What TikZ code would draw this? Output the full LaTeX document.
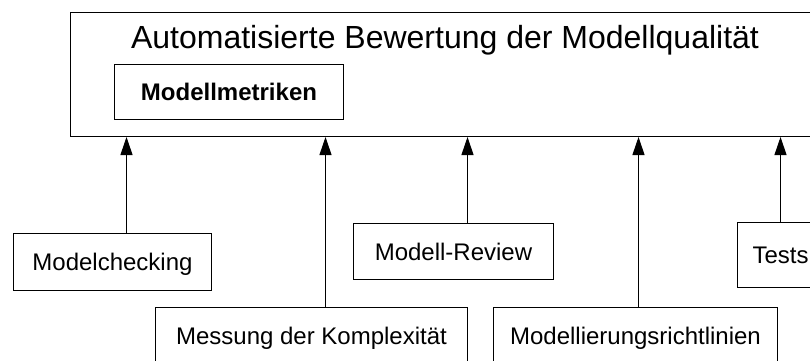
\documentclass[tikz,border=0pt]{standalone}
\usepackage{fontspec}
\setmainfont{Liberation Sans}
\usetikzlibrary{positioning, arrows.meta}

\begin{document}
\begin{tikzpicture}[
    x=1pt, y=-1pt,
    >={Triangle[length=18pt, width=12pt]},
    every node/.style={font=\fontsize{24}{28}\selectfont},
    method/.style={draw, line width=1pt, inner sep=0pt, anchor=north west,
                   minimum height=57pt, text height=17pt, text depth=0pt},
    arrow/.style={->, line width=1pt},
]
\useasboundingbox (0,0) rectangle (810,360);
\clip (0,0) rectangle (810,360);

% ── Evaluation box ──
\node[draw, line width=1pt, anchor=north west, inner sep=0pt,
      minimum width=760pt, minimum height=124pt]
    (eval) at (70,12) {};
\node[anchor=base, font=\fontsize{32}{38}\selectfont]
    (title) at (445,48) {Automatisierte Bewertung der Modellqualität};
\node[method, minimum width=229pt, minimum height=55pt,
      font=\fontsize{24}{28}\selectfont\bfseries]
    (metrics) at (114,64) {Modellmetriken};

% ── Methods ──
\node[method, minimum width=198pt] (mc) at (13,233) {Modelchecking};
\node[method, minimum width=312pt] (complexity) at (155,307) {Messung der Komplexität};
\node[method, minimum width=200pt, minimum height=56pt] (review) at (353,223) {Modell-Review};
\node[method, minimum width=284pt] (guidelines) at (493,307) {Modellierungsrichtlinien};
\node[method, minimum width=86pt, minimum height=65pt] (tests) at (737,222) {Tests};

% ── Arrows ──
\draw[arrow] ([xshift=14pt]mc.north) -- ([xshift=14pt]mc.north |- eval.south);
\draw[arrow] ([xshift=14pt]complexity.north) -- ([xshift=14pt]complexity.north |- eval.south);
\draw[arrow] ([xshift=14pt]review.north) -- ([xshift=14pt]review.north |- eval.south);
\draw[arrow] ([xshift=3pt]guidelines.north) -- ([xshift=3pt]guidelines.north |- eval.south);
\draw[arrow] (tests.north) -- (tests.north |- eval.south);

\end{tikzpicture}
\end{document}
